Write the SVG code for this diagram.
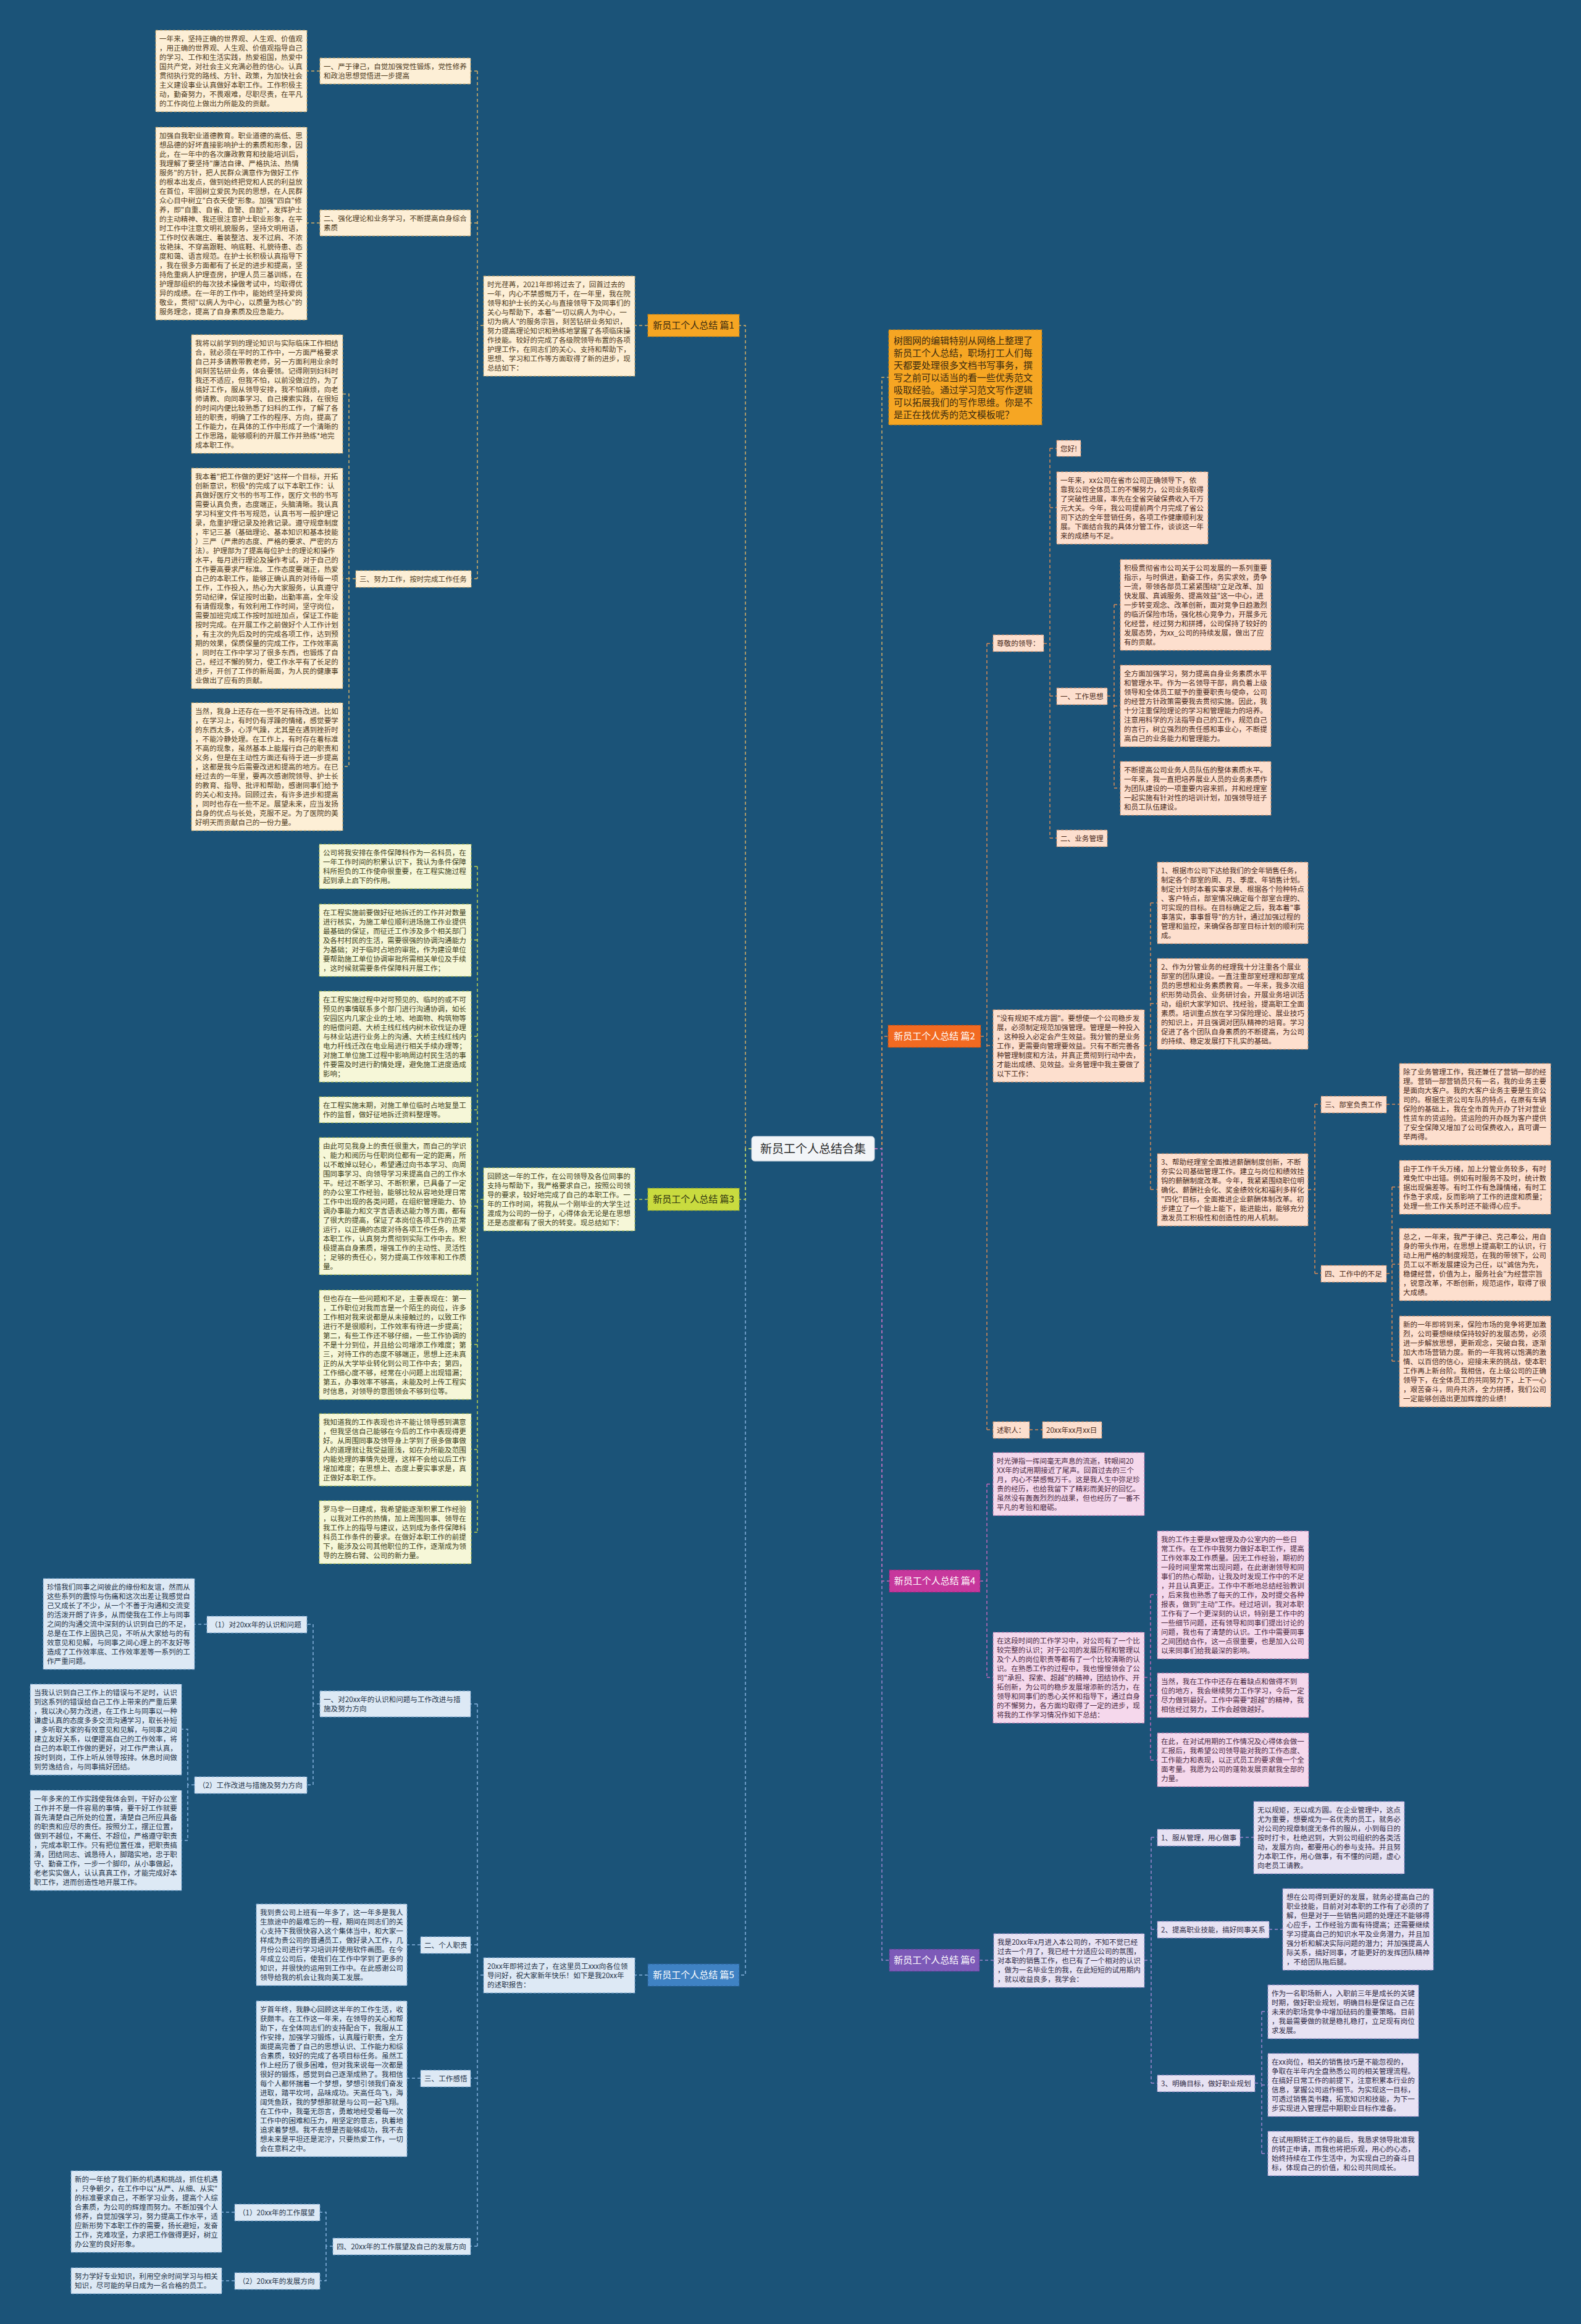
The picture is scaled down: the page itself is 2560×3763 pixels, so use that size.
<svg xmlns="http://www.w3.org/2000/svg" width="2560" height="3763" viewBox="0 0 2560 3763">
<style>
text{font-family:"Noto Sans CJK SC","Noto Sans",sans-serif}
.t{font-size:11.6px}
.lf rect{stroke-width:1;stroke-dasharray:4 3}
.b1 rect{fill:#fdefd6;stroke:#c8a25c}.b1 text{fill:#4d3a1c}
.b2 rect{fill:#fddfce;stroke:#cf8a60}.b2 text{fill:#4a2a1a}
.b3 rect{fill:#f6f7d8;stroke:#aabd45}.b3 text{fill:#3f4220}
.b4 rect{fill:#f5d8ec;stroke:#b36aa6}.b4 text{fill:#4a2a42}
.b5 rect{fill:#dde9f5;stroke:#7fa9d3}.b5 text{fill:#233247}
.b6 rect{fill:#e7e2f3;stroke:#9a86c8}.b6 text{fill:#2e2a44}
.mn rect{stroke-width:1.2;stroke-dasharray:4 3}
.mn text{font-size:15px;text-anchor:middle}
.cn path{fill:none;stroke-width:1.5;stroke-dasharray:5 4}
.c1{stroke:#d8b066}.c2{stroke:#d98a55}.c3{stroke:#bcd04c}.c4{stroke:#c06ab8}.c5{stroke:#86b3dd}.c6{stroke:#9f86d0}
</style>
<rect width="2560" height="3763" fill="#1b5378"/>

<g id="connectors" class="cn">
<path class="c1" d="M1217,1860 H1207 V527 H1197"/>
<path class="c5" d="M1217,1860 H1207 V3198 H1197"/>
<path class="c3" d="M1217,1860 H1207 V1942 H1197"/>
<path class="c1" d="M1416,1860 H1428 V611 H1439"/>
<path class="c2" d="M1416,1860 H1428 V1678 H1438"/>
<path class="c6" d="M1416,1860 H1428 V3174 H1440"/>
<path class="c4" d="M1416,1860 H1428 V2560 H1440"/>
<!-- 篇1 -->
<path class="c1" d="M1049,527 H1028"/>
<path class="c1" d="M783,527 H773 M773,115 V937 M773,115 H762 M773,361 H762 M773,937 H763"/>
<path class="c1" d="M518,115 H497 M518,361 H497"/>
<path class="c1" d="M576,937 H565 V638 H555 M565,937 H555 M565,937 V1241 H555"/>
<!-- 篇3 -->
<path class="c3" d="M1049,1942 H1028 M783,1942 H773 M773,1403 V2481 M773,1403 H763 M773,1522 H763 M773,1678 H763 M773,1797 H763 M773,1953 H763 M773,2177 H763 M773,2347 H763 M773,2481 H763"/>
<!-- 篇5 -->
<path class="c5" d="M1049,3198 H1028 M783,3198 H773 M773,2759 V3637 M773,2759 H762 M773,3149 H762 M773,3365 H762 M773,3637 H762"/>
<path class="c5" d="M518,2759 H507 V2630 H497 M507,2759 V2890 H497"/>
<path class="c5" d="M335,2630 H315"/>
<path class="c5" d="M315,2890 H304 V2800 H294 M304,2890 V2980 H294"/>
<path class="c5" d="M681,3149 H659 M681,3365 H659"/>
<path class="c5" d="M539,3637 H528 V3582 H518 M528,3637 V3693 H518"/>
<path class="c5" d="M380,3582 H359 M380,3693 H359"/>
<!-- 篇2 -->
<path class="c2" d="M1588,1678 H1598 M1598,1042 V2315 M1598,1042 H1608 M1598,1693 H1608 M1598,2315 H1608"/>
<path class="c2" d="M1690,1042 H1700 M1700,726 V1357 M1700,726 H1711 M1700,822 H1711 M1700,1127 H1711 M1700,1357 H1711"/>
<path class="c2" d="M1793,1127 H1804 M1804,979 V1276 M1804,979 H1814 M1804,1143 H1814 M1804,1276 H1814"/>
<path class="c2" d="M1852,1693 H1863 M1863,1462 V1926 M1863,1462 H1874 M1863,1625 H1874 M1863,1926 H1874"/>
<path class="c2" d="M2118,1926 H2129 M2129,1788 V2062 M2129,1788 H2139 M2129,2062 H2139"/>
<path class="c2" d="M2245,1788 H2266"/>
<path class="c2" d="M2245,2062 H2254 M2254,1922 V2204 M2254,1922 H2266 M2254,2047 H2266 M2254,2204 H2266"/>
<path class="c2" d="M1667,2315 H1688"/>
<!-- 篇4 -->
<path class="c4" d="M1587,2560 H1598 M1598,2403 V2716 M1598,2403 H1608 M1598,2716 H1608"/>
<path class="c4" d="M1853,2716 H1863 M1863,2582 V2850 M1863,2582 H1874 M1863,2745 H1874 M1863,2850 H1874"/>
<!-- 篇6 -->
<path class="c6" d="M1586,3174 H1609"/>
<path class="c6" d="M1853,3174 H1864 M1864,2975 V3373 M1864,2975 H1874 M1864,3124 H1874 M1864,3373 H1874"/>
<path class="c6" d="M2008,2975 H2030 M2055,3124 H2077"/>
<path class="c6" d="M2032,3373 H2043 M2043,3257 V3487 M2043,3257 H2053 M2043,3376 H2053 M2043,3487 H2053"/>
</g>

<g id="root">
<rect x="1217" y="1840" width="199" height="40" rx="5" fill="#f2f5f8" stroke="#c9d3dd" stroke-width="1"/>
<text x="1316.5" y="1866.5" font-size="19" text-anchor="middle" fill="#2b2b2b">新员工个人总结合集</text>
</g>

<!-- ===== 篇1 ===== -->
<g id="p1" class="mn"><rect x="1049" y="509" width="148" height="36" fill="#f6a623" stroke="#c27d10"/><text x="1123" y="532" fill="#3a2a10">新员工个人总结 篇1</text></g>
<g id="p1-intro" class="lf b1"><rect x="783" y="447" width="245" height="162"/><text class="t" x="789" y="465"><tspan x="789">时光荏苒，2021年即将过去了，回首过去的</tspan><tspan x="789" dy="15">一年，内心不禁感慨万千，在一年里，我在院</tspan><tspan x="789" dy="15">领导和护士长的关心与直接领导下及同事们的</tspan><tspan x="789" dy="15">关心与帮助下，本着"一切以病人为中心，一</tspan><tspan x="789" dy="15">切为病人"的服务宗旨，刻苦钻研业务知识，</tspan><tspan x="789" dy="15">努力提高理论知识和熟练地掌握了各项临床操</tspan><tspan x="789" dy="15">作技能。较好的完成了各级院领导布置的各项</tspan><tspan x="789" dy="15">护理工作，在同志们的关心、支持和帮助下，</tspan><tspan x="789" dy="15">思想、学习和工作等方面取得了新的进步，现</tspan><tspan x="789" dy="15">总结如下：</tspan></text></g>
<g id="p1-l1" class="lf b1"><rect x="518" y="94" width="244" height="42"/><text class="t" x="524" y="112"><tspan x="524">一、严于律己，自觉加强党性锻炼，党性修养</tspan><tspan x="524" dy="15">和政治思想觉悟进一步提高</tspan></text></g>
<g id="p1-b1" class="lf b1"><rect x="252" y="49" width="245" height="132"/><text class="t" x="258" y="67"><tspan x="258">一年来，坚持正确的世界观、人生观、价值观</tspan><tspan x="258" dy="15">，用正确的世界观、人生观、价值观指导自己</tspan><tspan x="258" dy="15">的学习、工作和生活实践，热爱祖国，热爱中</tspan><tspan x="258" dy="15">国共产党，对社会主义充满必胜的信心。认真</tspan><tspan x="258" dy="15">贯彻执行党的路线、方针、政策，为加快社会</tspan><tspan x="258" dy="15">主义建设事业认真做好本职工作。工作积极主</tspan><tspan x="258" dy="15">动，勤奋努力，不畏艰难，尽职尽责，在平凡</tspan><tspan x="258" dy="15">的工作岗位上做出力所能及的贡献。</tspan></text></g>
<g id="p1-l2" class="lf b1"><rect x="518" y="340" width="244" height="42"/><text class="t" x="524" y="358"><tspan x="524">二、强化理论和业务学习，不断提高自身综合</tspan><tspan x="524" dy="15">素质</tspan></text></g>
<g id="p1-b2" class="lf b1"><rect x="252" y="206" width="245" height="312"/><text class="t" x="258" y="224"><tspan x="258">加强自我职业道德教育。职业道德的高低、思</tspan><tspan x="258" dy="15">想品德的好坏直接影响护士的素质和形象，因</tspan><tspan x="258" dy="15">此，在一年中的各次廉政教育和技能培训后，</tspan><tspan x="258" dy="15">我理解了要坚持"廉洁自律、严格执法、热情</tspan><tspan x="258" dy="15">服务"的方针，把人民群众满意作为做好工作</tspan><tspan x="258" dy="15">的根本出发点，做到始终把党和人民的利益放</tspan><tspan x="258" dy="15">在首位，牢固树立爱民为民的思想，在人民群</tspan><tspan x="258" dy="15">众心目中树立"白衣天使"形象。加强"四自"修</tspan><tspan x="258" dy="15">养，即"自重、自省、自警、自励"，发挥护士</tspan><tspan x="258" dy="15">的主动精神、我还很注意护士职业形象，在平</tspan><tspan x="258" dy="15">时工作中注意文明礼貌服务，坚持文明用语，</tspan><tspan x="258" dy="15">工作时仪表端庄、着装整洁、发不过肩、不浓</tspan><tspan x="258" dy="15">妆艳抹、不穿高跟鞋、响底鞋、礼貌待患、态</tspan><tspan x="258" dy="15">度和蔼、语言规范。在护士长积极认真指导下</tspan><tspan x="258" dy="15">，我在很多方面都有了长足的进步和提高，坚</tspan><tspan x="258" dy="15">持危重病人护理查房，护理人员三基训练，在</tspan><tspan x="258" dy="15">护理部组织的每次技术操做考试中，均取得优</tspan><tspan x="258" dy="15">异的成绩。在一年的工作中，能始终坚持爱岗</tspan><tspan x="258" dy="15">敬业，贯彻"以病人为中心，以质量为核心"的</tspan><tspan x="258" dy="15">服务理念，提高了自身素质及应急能力。</tspan></text></g>
<g id="p1-l3" class="lf b1"><rect x="576" y="924" width="187" height="27"/><text class="t" x="582" y="942">三、努力工作，按时完成工作任务</text></g>
<g id="p1-b3" class="lf b1"><rect x="310" y="542" width="245" height="192"/><text class="t" x="316" y="560"><tspan x="316">我将以前学到的理论知识与实际临床工作相结</tspan><tspan x="316" dy="15">合，就必须在平时的工作中，一方面严格要求</tspan><tspan x="316" dy="15">自己并多请教带教老师，另一方面利用业余时</tspan><tspan x="316" dy="15">间刻苦钻研业务，体会要领。记得刚到妇科时</tspan><tspan x="316" dy="15">我还不适应，但我不怕，以前没做过的，为了</tspan><tspan x="316" dy="15">搞好工作，服从领导安排，我不怕麻烦，向老</tspan><tspan x="316" dy="15">师请教、向同事学习、自己摸索实践，在很短</tspan><tspan x="316" dy="15">的时间内便比较熟悉了妇科的工作，了解了各</tspan><tspan x="316" dy="15">班的职责，明确了工作的程序、方向，提高了</tspan><tspan x="316" dy="15">工作能力，在具体的工作中形成了一个清晰的</tspan><tspan x="316" dy="15">工作思路，能够顺利的开展工作并熟练*地完</tspan><tspan x="316" dy="15">成本职工作。</tspan></text></g>
<g id="p1-b4" class="lf b1"><rect x="310" y="758" width="245" height="357"/><text class="t" x="316" y="776"><tspan x="316">我本着"把工作做的更好"这样一个目标，开拓</tspan><tspan x="316" dy="15">创新意识，积极*的完成了以下本职工作：认</tspan><tspan x="316" dy="15">真做好医疗文书的书写工作，医疗文书的书写</tspan><tspan x="316" dy="15">需要认真负责，态度端正，头脑清晰。我认真</tspan><tspan x="316" dy="15">学习科室文件书写规范，认真书写一般护理记</tspan><tspan x="316" dy="15">录，危重护理记录及抢救记录。遵守规章制度</tspan><tspan x="316" dy="15">，牢记三基（基础理论、基本知识和基本技能</tspan><tspan x="316" dy="15">）三严（严肃的态度、严格的要求、严密的方</tspan><tspan x="316" dy="15">法）。护理部为了提高每位护士的理论和操作</tspan><tspan x="316" dy="15">水平，每月进行理论及操作考试，对于自己的</tspan><tspan x="316" dy="15">工作要高要求严标准。工作态度要端正，热爱</tspan><tspan x="316" dy="15">自己的本职工作，能够正确认真的对待每一项</tspan><tspan x="316" dy="15">工作，工作投入，热心为大家服务，认真遵守</tspan><tspan x="316" dy="15">劳动纪律，保证按时出勤，出勤率高，全年没</tspan><tspan x="316" dy="15">有请假现象，有效利用工作时间，坚守岗位，</tspan><tspan x="316" dy="15">需要加班完成工作按时加班加点，保证工作能</tspan><tspan x="316" dy="15">按时完成。在开展工作之前做好个人工作计划</tspan><tspan x="316" dy="15">，有主次的先后及时的完成各项工作，达到预</tspan><tspan x="316" dy="15">期的效果，保质保量的完成工作，工作效率高</tspan><tspan x="316" dy="15">，同时在工作中学习了很多东西，也锻炼了自</tspan><tspan x="316" dy="15">己，经过不懈的努力，使工作水平有了长足的</tspan><tspan x="316" dy="15">进步，开创了工作的新局面，为人民的健康事</tspan><tspan x="316" dy="15">业做出了应有的贡献。</tspan></text></g>
<g id="p1-b5" class="lf b1"><rect x="310" y="1138" width="245" height="207"/><text class="t" x="316" y="1156"><tspan x="316">当然，我身上还存在一些不足有待改进。比如</tspan><tspan x="316" dy="15">，在学习上，有时仍有浮躁的情绪，感觉要学</tspan><tspan x="316" dy="15">的东西太多，心浮气躁，尤其是在遇到挫折时</tspan><tspan x="316" dy="15">，不能冷静处理。在工作上，有时存在着标准</tspan><tspan x="316" dy="15">不高的现象，虽然基本上能履行自己的职责和</tspan><tspan x="316" dy="15">义务，但是在主动性方面还有待于进一步提高</tspan><tspan x="316" dy="15">，这都是我今后需要改进和提高的地方。在已</tspan><tspan x="316" dy="15">经过去的一年里，要再次感谢院领导、护士长</tspan><tspan x="316" dy="15">的教育、指导、批评和帮助，感谢同事们给予</tspan><tspan x="316" dy="15">的关心和支持。回顾过去，有许多进步和提高</tspan><tspan x="316" dy="15">，同时也存在一些不足。展望未来，应当发扬</tspan><tspan x="316" dy="15">自身的优点与长处，克服不足。为了医院的美</tspan><tspan x="316" dy="15">好明天而贡献自己的一份力量。</tspan></text></g>

<!-- ===== 篇3 ===== -->
<g id="p3" class="mn"><rect x="1049" y="1924" width="148" height="36" fill="#c9db3f" stroke="#98a82a"/><text x="1123" y="1947" fill="#2e3310">新员工个人总结 篇3</text></g>
<g id="p3-intro" class="lf b3"><rect x="783" y="1891" width="245" height="102"/><text class="t" x="789" y="1909"><tspan x="789">回顾这一年的工作，在公司领导及各位同事的</tspan><tspan x="789" dy="15">支持与帮助下，我严格要求自己，按照公司领</tspan><tspan x="789" dy="15">导的要求，较好地完成了自己的本职工作。一</tspan><tspan x="789" dy="15">年的工作时间，将我从一个刚毕业的大学生过</tspan><tspan x="789" dy="15">渡成为公司的一份子，心得体会无论是在思想</tspan><tspan x="789" dy="15">还是态度都有了很大的转变。现总结如下：</tspan></text></g>
<g id="p3-a" class="lf b3"><rect x="517" y="1367" width="246" height="72"/><text class="t" x="523" y="1385"><tspan x="523">公司将我安排在条件保障科作为一名科员，在</tspan><tspan x="523" dy="15">一年工作时间的积累认识下，我认为条件保障</tspan><tspan x="523" dy="15">科所担负的工作使命很重要，在工程实施过程</tspan><tspan x="523" dy="15">起到承上启下的作用。</tspan></text></g>
<g id="p3-b" class="lf b3"><rect x="517" y="1464" width="246" height="117"/><text class="t" x="523" y="1482"><tspan x="523">在工程实施前要做好征地拆迁的工作并对数量</tspan><tspan x="523" dy="15">进行核实，为施工单位顺利进场施工作业提供</tspan><tspan x="523" dy="15">最基础的保证，而征迁工作涉及多个相关部门</tspan><tspan x="523" dy="15">及各村村民的生活，需要很强的协调沟通能力</tspan><tspan x="523" dy="15">为基础；对于临时占地的审批，作为建设单位</tspan><tspan x="523" dy="15">要帮助施工单位协调审批所需相关单位及手续</tspan><tspan x="523" dy="15">，这时候就需要条件保障科开展工作；</tspan></text></g>
<g id="p3-c" class="lf b3"><rect x="517" y="1605" width="246" height="147"/><text class="t" x="523" y="1623"><tspan x="523">在工程实施过程中对可预见的、临时的或不可</tspan><tspan x="523" dy="15">预见的事情联系多个部门进行沟通协调，如长</tspan><tspan x="523" dy="15">安园区内几家企业的土地、地面物、构筑物等</tspan><tspan x="523" dy="15">的赔偿问题、大桥主线红线内树木砍伐证办理</tspan><tspan x="523" dy="15">与林业站进行业务上的沟通、大桥主线红线内</tspan><tspan x="523" dy="15">电力杆线迁改在电业局进行相关手续办理等；</tspan><tspan x="523" dy="15">对施工单位施工过程中影响周边村民生活的事</tspan><tspan x="523" dy="15">件要需及时进行酌情处理，避免施工进度造成</tspan><tspan x="523" dy="15">影响；</tspan></text></g>
<g id="p3-d" class="lf b3"><rect x="517" y="1776" width="246" height="42"/><text class="t" x="523" y="1794"><tspan x="523">在工程实施末期，对施工单位临时占地复垦工</tspan><tspan x="523" dy="15">作的监督，做好征地拆迁资料整理等。</tspan></text></g>
<g id="p3-e" class="lf b3"><rect x="517" y="1842" width="246" height="222"/><text class="t" x="523" y="1860"><tspan x="523">由此可见我身上的责任很重大，而自己的学识</tspan><tspan x="523" dy="15">、能力和阅历与任职岗位都有一定的距离，所</tspan><tspan x="523" dy="15">以不敢掉以轻心，希望通过向书本学习、向周</tspan><tspan x="523" dy="15">围同事学习、向领导学习来提高自己的工作水</tspan><tspan x="523" dy="15">平。经过不断学习、不断积累，已具备了一定</tspan><tspan x="523" dy="15">的办公室工作经验，能够比较从容地处理日常</tspan><tspan x="523" dy="15">工作中出现的各类问题，在组织管理能力、协</tspan><tspan x="523" dy="15">调办事能力和文字言语表达能力等方面，都有</tspan><tspan x="523" dy="15">了很大的提高，保证了本岗位各项工作的正常</tspan><tspan x="523" dy="15">运行，以正确的态度对待各项工作任务，热爱</tspan><tspan x="523" dy="15">本职工作，认真努力贯彻到实际工作中去。积</tspan><tspan x="523" dy="15">极提高自身素质，增强工作的主动性、灵活性</tspan><tspan x="523" dy="15">；足够的责任心，努力提高工作效率和工作质</tspan><tspan x="523" dy="15">量。</tspan></text></g>
<g id="p3-f" class="lf b3"><rect x="517" y="2089" width="246" height="177"/><text class="t" x="523" y="2107"><tspan x="523">但也存在一些问题和不足，主要表现在：第一</tspan><tspan x="523" dy="15">，工作职位对我而言是一个陌生的岗位，许多</tspan><tspan x="523" dy="15">工作相对我来说都是从未接触过的，以致工作</tspan><tspan x="523" dy="15">进行不是很顺利，工作效率有待进一步提高；</tspan><tspan x="523" dy="15">第二，有些工作还不够仔细，一些工作协调的</tspan><tspan x="523" dy="15">不是十分到位，并且给公司增添工作难度；第</tspan><tspan x="523" dy="15">三，对待工作的态度不够端正，思想上还未真</tspan><tspan x="523" dy="15">正的从大学毕业转化到公司工作中去；第四，</tspan><tspan x="523" dy="15">工作细心度不够，经常在小问题上出现错漏；</tspan><tspan x="523" dy="15">第五，办事效率不够高，未能及时上传工程实</tspan><tspan x="523" dy="15">时信息，对领导的意图领会不够到位等。</tspan></text></g>
<g id="p3-g" class="lf b3"><rect x="517" y="2289" width="246" height="117"/><text class="t" x="523" y="2307"><tspan x="523">我知道我的工作表现也许不能让领导感到满意</tspan><tspan x="523" dy="15">，但我坚信自己能够在今后的工作中表现得更</tspan><tspan x="523" dy="15">好。从周围同事及领导身上学到了很多做事做</tspan><tspan x="523" dy="15">人的道理就让我受益匪浅，如在力所能及范围</tspan><tspan x="523" dy="15">内能处理的事情先处理，这样不会给以后工作</tspan><tspan x="523" dy="15">增加难度；在思想上、态度上要实事求是，真</tspan><tspan x="523" dy="15">正做好本职工作。</tspan></text></g>
<g id="p3-h" class="lf b3"><rect x="517" y="2430" width="246" height="102"/><text class="t" x="523" y="2448"><tspan x="523">罗马非一日建成，我希望能逐渐积累工作经验</tspan><tspan x="523" dy="15">，以我对工作的热情，加上周围同事、领导在</tspan><tspan x="523" dy="15">我工作上的指导与建议，达到成为条件保障科</tspan><tspan x="523" dy="15">科员工作条件的要求。在做好本职工作的前提</tspan><tspan x="523" dy="15">下，能涉及公司其他职位的工作，逐渐成为领</tspan><tspan x="523" dy="15">导的左膀右臂、公司的新力量。</tspan></text></g>

<!-- ===== 篇5 ===== -->
<g id="p5" class="mn"><rect x="1049" y="3180" width="148" height="36" fill="#3f82c4" stroke="#2a5f95"/><text x="1123" y="3203" fill="#ffffff">新员工个人总结 篇5</text></g>
<g id="p5-intro" class="lf b5"><rect x="783" y="3170" width="245" height="57"/><text class="t" x="789" y="3188"><tspan x="789">20xx年即将过去了，在这里员工xxx向各位领</tspan><tspan x="789" dy="15">导问好，祝大家新年快乐！如下是我20xx年</tspan><tspan x="789" dy="15">的述职报告：</tspan></text></g>
<g id="p5-l1" class="lf b5"><rect x="518" y="2738" width="244" height="42"/><text class="t" x="524" y="2756"><tspan x="524">一、对20xx年的认识和问题与工作改进与措</tspan><tspan x="524" dy="15">施及努力方向</tspan></text></g>
<g id="p5-s1" class="lf b5"><rect x="335" y="2617" width="162" height="27"/><text class="t" x="341" y="2635">（1）对20xx年的认识和问题</text></g>
<g id="p5-p1" class="lf b5"><rect x="70" y="2556" width="245" height="147"/><text class="t" x="76" y="2574"><tspan x="76">珍惜我们同事之间彼此的缘份和友谊，然而从</tspan><tspan x="76" dy="15">这些系列的震惊与伤痛和这次出差让我感觉自</tspan><tspan x="76" dy="15">己又成长了不少，从一个不善于沟通和交流变</tspan><tspan x="76" dy="15">的活泼开朗了许多，从而使我在工作上与同事</tspan><tspan x="76" dy="15">之间的沟通交流中深刻的认识到自已的不足，</tspan><tspan x="76" dy="15">总是在工作上固执己见，不听从大家给与的有</tspan><tspan x="76" dy="15">效意见和见解，与同事之间心理上的不友好等</tspan><tspan x="76" dy="15">造成了工作效率底、工作效率差等一系列的工</tspan><tspan x="76" dy="15">作严重问题。</tspan></text></g>
<g id="p5-s2" class="lf b5"><rect x="315" y="2877" width="182" height="27"/><text class="t" x="321" y="2895">（2）工作改进与措施及努力方向</text></g>
<g id="p5-p2" class="lf b5"><rect x="49" y="2727" width="245" height="147"/><text class="t" x="55" y="2745"><tspan x="55">当我认识到自己工作上的错误与不足时，认识</tspan><tspan x="55" dy="15">到这系列的错误给自己工作上带来的严重后果</tspan><tspan x="55" dy="15">，我以决心努力改进，在工作上与同事以一种</tspan><tspan x="55" dy="15">谦虚认真的态度多多交流沟通学习，取长补短</tspan><tspan x="55" dy="15">，多听取大家的有效意见和见解，与同事之间</tspan><tspan x="55" dy="15">建立友好关系，以便提高自己的工作效率，将</tspan><tspan x="55" dy="15">自己的本职工作做的更好，对工作严肃认真，</tspan><tspan x="55" dy="15">按时到岗，工作上听从领导按排。休息时间做</tspan><tspan x="55" dy="15">到劳逸结合，与同事搞好团结。</tspan></text></g>
<g id="p5-p3" class="lf b5"><rect x="49" y="2899" width="245" height="162"/><text class="t" x="55" y="2917"><tspan x="55">一年多来的工作实践使我体会到，干好办公室</tspan><tspan x="55" dy="15">工作并不是一件容易的事情，要干好工作就要</tspan><tspan x="55" dy="15">首先清楚自己所处的位置，清楚自己所应具备</tspan><tspan x="55" dy="15">的职责和应尽的责任。按照分工，摆正位置，</tspan><tspan x="55" dy="15">做到不越位，不离任、不超位，严格遵守职责</tspan><tspan x="55" dy="15">，完成本职工作。只有把位置任准，把职责搞</tspan><tspan x="55" dy="15">清，团结同志、诚恳待人，脚踏实地，忠于职</tspan><tspan x="55" dy="15">守、勤奋工作，一步一个脚印，从小事做起，</tspan><tspan x="55" dy="15">老老实实做人，认认真真工作，才能完成好本</tspan><tspan x="55" dy="15">职工作，进而创造性地开展工作。</tspan></text></g>
<g id="p5-l2" class="lf b5"><rect x="681" y="3136" width="81" height="27"/><text class="t" x="687" y="3154">二、个人职责</text></g>
<g id="p5-b2" class="lf b5"><rect x="415" y="3083" width="244" height="132"/><text class="t" x="421" y="3101"><tspan x="421">我到贵公司上班有一年多了，这一年多是我人</tspan><tspan x="421" dy="15">生旅途中的最难忘的一程，期间在同志们的关</tspan><tspan x="421" dy="15">心支持下我很快容入这个集体当中，和大家一</tspan><tspan x="421" dy="15">样成为贵公司的普通员工，做好录入工作，几</tspan><tspan x="421" dy="15">月份公司进行学习培训并使用软件画图。在今</tspan><tspan x="421" dy="15">年成立公司后，使我们在工作中学到了更多的</tspan><tspan x="421" dy="15">知识，并很快的运用到工作中。在此感谢公司</tspan><tspan x="421" dy="15">领导给我的机会让我向美工发展。</tspan></text></g>
<g id="p5-l3" class="lf b5"><rect x="681" y="3352" width="81" height="27"/><text class="t" x="687" y="3370">三、工作感悟</text></g>
<g id="p5-b3" class="lf b5"><rect x="415" y="3240" width="244" height="252"/><text class="t" x="421" y="3258"><tspan x="421">岁首年终，我静心回顾这半年的工作生活，收</tspan><tspan x="421" dy="15">获颇丰。在工作这一年来，在领导的关心和帮</tspan><tspan x="421" dy="15">助下，在全体同志们的支持配合下，我服从工</tspan><tspan x="421" dy="15">作安排，加强学习锻炼，认真履行职责，全方</tspan><tspan x="421" dy="15">面提高完善了自己的思想认识、工作能力和综</tspan><tspan x="421" dy="15">合素质，较好的完成了各项目标任务。虽然工</tspan><tspan x="421" dy="15">作上经历了很多困难，但对我来说每一次都是</tspan><tspan x="421" dy="15">很好的锻炼，感觉到自己逐渐成熟了。我相信</tspan><tspan x="421" dy="15">每个人都怀揣着一个梦想，梦想引领我们奋发</tspan><tspan x="421" dy="15">进取，踏平坎坷，品味成功。天高任鸟飞，海</tspan><tspan x="421" dy="15">阔凭鱼跃，我的梦想那就是与公司一起飞翔。</tspan><tspan x="421" dy="15">在工作中，我毫无怨言，勇敢地经受着每一次</tspan><tspan x="421" dy="15">工作中的困难和压力，用坚定的意志，执着地</tspan><tspan x="421" dy="15">追求着梦想。我不去想是否能够成功，我不去</tspan><tspan x="421" dy="15">想未来是平坦还是泥泞，只要热爱工作，一切</tspan><tspan x="421" dy="15">会在意料之中。</tspan></text></g>
<g id="p5-l4" class="lf b5"><rect x="539" y="3624" width="223" height="27"/><text class="t" x="545" y="3642">四、20xx年的工作展望及自己的发展方向</text></g>
<g id="p5-s3" class="lf b5"><rect x="380" y="3569" width="138" height="27"/><text class="t" x="386" y="3587">（1）20xx年的工作展望</text></g>
<g id="p5-b4" class="lf b5"><rect x="115" y="3515" width="244" height="132"/><text class="t" x="121" y="3533"><tspan x="121">新的一年给了我们新的机遇和挑战，抓住机遇</tspan><tspan x="121" dy="15">，只争朝夕，在工作中以"从严、从细、从实"</tspan><tspan x="121" dy="15">的标准要求自己，不断学习业务，提高个人综</tspan><tspan x="121" dy="15">合素质，为公司的辉煌而努力。不断加强个人</tspan><tspan x="121" dy="15">修养，自觉加强学习，努力提高工作水平，适</tspan><tspan x="121" dy="15">应新形势下本职工作的需要，扬长避短，发奋</tspan><tspan x="121" dy="15">工作，克难攻坚，力求把工作做得更好，树立</tspan><tspan x="121" dy="15">办公室的良好形象。</tspan></text></g>
<g id="p5-s4" class="lf b5"><rect x="380" y="3680" width="138" height="27"/><text class="t" x="386" y="3698">（2）20xx年的发展方向</text></g>
<g id="p5-b5" class="lf b5"><rect x="115" y="3672" width="244" height="42"/><text class="t" x="121" y="3690"><tspan x="121">努力学好专业知识，利用空余时间学习与相关</tspan><tspan x="121" dy="15">知识，尽可能的早日成为一名合格的员工。</tspan></text></g>

<!-- ===== intro ===== -->
<g id="intro"><rect x="1439" y="534" width="248" height="154" fill="#f6a623" stroke="#c27d10" stroke-width="1.2" stroke-dasharray="4 3"/><text x="1447" y="557" font-size="15" fill="#3a2a10"><tspan x="1447">树图网的编辑特别从网络上整理了</tspan><tspan x="1447" dy="20">新员工个人总结，职场打工人们每</tspan><tspan x="1447" dy="20">天都要处理很多文档书写事务，撰</tspan><tspan x="1447" dy="20">写之前可以适当的看一些优秀范文</tspan><tspan x="1447" dy="20">吸取经验。通过学习范文写作逻辑</tspan><tspan x="1447" dy="20">可以拓展我们的写作思维。你是不</tspan><tspan x="1447" dy="20">是正在找优秀的范文模板呢？</tspan></text></g>

<!-- ===== 篇2 ===== -->
<g id="p2" class="mn"><rect x="1438" y="1660" width="150" height="36" fill="#f26a21" stroke="#c04a10"/><text x="1513" y="1683" fill="#ffffff">新员工个人总结 篇2</text></g>
<g id="p2-lead" class="lf b2"><rect x="1608" y="1028" width="82" height="27"/><text class="t" x="1614" y="1046">尊敬的领导：</text></g>
<g id="p2-hi" class="lf b2"><rect x="1711" y="713" width="39" height="26"/><text class="t" x="1717" y="731">您好!</text></g>
<g id="p2-a" class="lf b2"><rect x="1711" y="764" width="245" height="117"/><text class="t" x="1717" y="782"><tspan x="1717">一年来，xx公司在省市公司正确领导下，依</tspan><tspan x="1717" dy="15">靠我公司全体员工的不懈努力，公司业务取得</tspan><tspan x="1717" dy="15">了突破性进展，率先在全省突破保费收入千万</tspan><tspan x="1717" dy="15">元大关。今年，我公司提前两个月完成了省公</tspan><tspan x="1717" dy="15">司下达的全年营销任务，各项工作健康顺利发</tspan><tspan x="1717" dy="15">展。下面结合我的具体分管工作，谈谈这一年</tspan><tspan x="1717" dy="15">来的成绩与不足。</tspan></text></g>
<g id="p2-l1" class="lf b2"><rect x="1711" y="1114" width="82" height="27"/><text class="t" x="1717" y="1132">一、工作思想</text></g>
<g id="p2-l2" class="lf b2"><rect x="1711" y="1344" width="82" height="27"/><text class="t" x="1717" y="1362">二、业务管理</text></g>
<g id="p2-w1" class="lf b2"><rect x="1814" y="906" width="244" height="147"/><text class="t" x="1820" y="924"><tspan x="1820">积极贯彻省市公司关于公司发展的一系列重要</tspan><tspan x="1820" dy="15">指示，与时俱进，勤奋工作，务实求效，勇争</tspan><tspan x="1820" dy="15">一流，带领各部员工紧紧围绕"立足改革、加</tspan><tspan x="1820" dy="15">快发展、真诚服务、提高效益"这一中心，进</tspan><tspan x="1820" dy="15">一步转变观念、改革创新，面对竞争日趋激烈</tspan><tspan x="1820" dy="15">的临沂保险市场，强化核心竞争力，开展多元</tspan><tspan x="1820" dy="15">化经营，经过努力和拼搏，公司保持了较好的</tspan><tspan x="1820" dy="15">发展态势，为xx_公司的持续发展，做出了应</tspan><tspan x="1820" dy="15">有的贡献。</tspan></text></g>
<g id="p2-w2" class="lf b2"><rect x="1814" y="1077" width="244" height="132"/><text class="t" x="1820" y="1095"><tspan x="1820">全方面加强学习，努力提高自身业务素质水平</tspan><tspan x="1820" dy="15">和管理水平。作为一名领导干部，肩负着上级</tspan><tspan x="1820" dy="15">领导和全体员工赋予的重要职责与使命，公司</tspan><tspan x="1820" dy="15">的经营方针政策需要我去贯彻实施。因此，我</tspan><tspan x="1820" dy="15">十分注重保险理论的学习和管理能力的培养。</tspan><tspan x="1820" dy="15">注意用科学的方法指导自己的工作，规范自己</tspan><tspan x="1820" dy="15">的言行，树立强烈的责任感和事业心，不断提</tspan><tspan x="1820" dy="15">高自己的业务能力和管理能力。</tspan></text></g>
<g id="p2-w3" class="lf b2"><rect x="1814" y="1233" width="244" height="87"/><text class="t" x="1820" y="1251"><tspan x="1820">不断提高公司业务人员队伍的整体素质水平。</tspan><tspan x="1820" dy="15">一年来，我一直把培养展业人员的业务素质作</tspan><tspan x="1820" dy="15">为团队建设的一项重要内容来抓，并和经理室</tspan><tspan x="1820" dy="15">一起实施有针对性的培训计划，加强领导班子</tspan><tspan x="1820" dy="15">和员工队伍建设。</tspan></text></g>
<g id="p2-m" class="lf b2"><rect x="1608" y="1635" width="245" height="117"/><text class="t" x="1614" y="1653"><tspan x="1614">"没有规矩不成方圆"。要想使一个公司稳步发</tspan><tspan x="1614" dy="15">展，必须制定规范加强管理。管理是一种投入</tspan><tspan x="1614" dy="15">，这种投入必定会产生效益。我分管的是业务</tspan><tspan x="1614" dy="15">工作，更需要向管理要效益。只有不断完善各</tspan><tspan x="1614" dy="15">种管理制度和方法，并真正贯彻到行动中去，</tspan><tspan x="1614" dy="15">才能出成绩、见效益。业务管理中我主要做了</tspan><tspan x="1614" dy="15">以下工作：</tspan></text></g>
<g id="p2-m1" class="lf b2"><rect x="1874" y="1396" width="244" height="132"/><text class="t" x="1880" y="1414"><tspan x="1880">1、根据市公司下达给我们的全年销售任务，</tspan><tspan x="1880" dy="15">制定各个部室的周、月、季度、年销售计划。</tspan><tspan x="1880" dy="15">制定计划时本着实事求是、根据各个险种特点</tspan><tspan x="1880" dy="15">、客户特点，部室情况确定每个部室合理的、</tspan><tspan x="1880" dy="15">可实现的目标。在目标确定之后，我本着"事</tspan><tspan x="1880" dy="15">事落实，事事督导"的方针，通过加强过程的</tspan><tspan x="1880" dy="15">管理和监控，来确保各部室目标计划的顺利完</tspan><tspan x="1880" dy="15">成。</tspan></text></g>
<g id="p2-m2" class="lf b2"><rect x="1874" y="1552" width="244" height="147"/><text class="t" x="1880" y="1570"><tspan x="1880">2、作为分管业务的经理我十分注重各个展业</tspan><tspan x="1880" dy="15">部室的团队建设。一直注重部室经理和部室成</tspan><tspan x="1880" dy="15">员的思想和业务素质教育。一年来，我多次组</tspan><tspan x="1880" dy="15">织形势动员会、业务研讨会，开展业务培训活</tspan><tspan x="1880" dy="15">动，组织大家学知识、找经验，提高职工全面</tspan><tspan x="1880" dy="15">素质。培训重点放在学习保险理论、展业技巧</tspan><tspan x="1880" dy="15">的知识上，并且强调对团队精神的培育。学习</tspan><tspan x="1880" dy="15">促进了各个团队自身素质的不断提高，为公司</tspan><tspan x="1880" dy="15">的持续、稳定发展打下扎实的基础。</tspan></text></g>
<g id="p2-m3" class="lf b2"><rect x="1874" y="1868" width="244" height="117"/><text class="t" x="1880" y="1886"><tspan x="1880">3、帮助经理室全面推进薪酬制度创新，不断</tspan><tspan x="1880" dy="15">夯实公司基础管理工作。建立与岗位和绩效挂</tspan><tspan x="1880" dy="15">钩的薪酬制度改革。今年，我紧紧围绕职位明</tspan><tspan x="1880" dy="15">确化、薪酬社会化、奖金绩效化和福利多样化</tspan><tspan x="1880" dy="15">"四化"目标，全面推进企业薪酬体制改革。初</tspan><tspan x="1880" dy="15">步建立了一个能上能下，能进能出，能够充分</tspan><tspan x="1880" dy="15">激发员工积极性和创造性的用人机制。</tspan></text></g>
<g id="p2-l3" class="lf b2"><rect x="2139" y="1775" width="106" height="27"/><text class="t" x="2145" y="1793">三、部室负责工作</text></g>
<g id="p2-d1" class="lf b2"><rect x="2266" y="1722" width="245" height="132"/><text class="t" x="2272" y="1740"><tspan x="2272">除了业务管理工作，我还兼任了营销一部的经</tspan><tspan x="2272" dy="15">理。营销一部营销员只有一名，我的业务主要</tspan><tspan x="2272" dy="15">是面向大客户。我的大客户业务主要是生资公</tspan><tspan x="2272" dy="15">司的。根据生资公司车队的特点，在原有车辆</tspan><tspan x="2272" dy="15">保险的基础上，我在全市首先开办了针对营业</tspan><tspan x="2272" dy="15">性货车的货运险。货运险的开办既为客户提供</tspan><tspan x="2272" dy="15">了安全保障又增加了公司保费收入，真可谓一</tspan><tspan x="2272" dy="15">举两得。</tspan></text></g>
<g id="p2-l4" class="lf b2"><rect x="2139" y="2049" width="106" height="27"/><text class="t" x="2145" y="2067">四、工作中的不足</text></g>
<g id="p2-e1" class="lf b2"><rect x="2266" y="1879" width="245" height="87"/><text class="t" x="2272" y="1897"><tspan x="2272">由于工作千头万绪，加上分管业务较多，有时</tspan><tspan x="2272" dy="15">难免忙中出错。例如有时服务不及时，统计数</tspan><tspan x="2272" dy="15">据出现偏差等。有时工作有急躁情绪，有时工</tspan><tspan x="2272" dy="15">作急于求成，反而影响了工作的进度和质量；</tspan><tspan x="2272" dy="15">处理一些工作关系时还不能得心应手。</tspan></text></g>
<g id="p2-e2" class="lf b2"><rect x="2266" y="1989" width="245" height="117"/><text class="t" x="2272" y="2007"><tspan x="2272">总之，一年来，我严于律己、克己奉公，用自</tspan><tspan x="2272" dy="15">身的带头作用，在思想上提高职工的认识，行</tspan><tspan x="2272" dy="15">动上用严格的制度规范，在我的带领下，公司</tspan><tspan x="2272" dy="15">员工以不断发展建设为己任，以"诚信为先，</tspan><tspan x="2272" dy="15">稳健经营，价值为上，服务社会"为经营宗旨</tspan><tspan x="2272" dy="15">，锐意改革，不断创新，规范运作，取得了很</tspan><tspan x="2272" dy="15">大成绩。</tspan></text></g>
<g id="p2-e3" class="lf b2"><rect x="2266" y="2131" width="245" height="147"/><text class="t" x="2272" y="2149"><tspan x="2272">新的一年即将到来，保险市场的竞争将更加激</tspan><tspan x="2272" dy="15">烈，公司要想继续保持较好的发展态势，必须</tspan><tspan x="2272" dy="15">进一步解放思想，更新观念，突破自我，逐渐</tspan><tspan x="2272" dy="15">加大市场营销力度。新的一年我将以饱满的激</tspan><tspan x="2272" dy="15">情、以百倍的信心，迎接未来的挑战，使本职</tspan><tspan x="2272" dy="15">工作再上新台阶。我相信，在上级公司的正确</tspan><tspan x="2272" dy="15">领导下，在全体员工的共同努力下，上下一心</tspan><tspan x="2272" dy="15">，艰苦奋斗，同舟共济，全力拼搏，我们公司</tspan><tspan x="2272" dy="15">一定能够创造出更加辉煌的业绩！</tspan></text></g>
<g id="p2-sig" class="lf b2"><rect x="1608" y="2302" width="59" height="27"/><text class="t" x="1614" y="2320">述职人：</text></g>
<g id="p2-date" class="lf b2"><rect x="1688" y="2302" width="96" height="27"/><text class="t" x="1694" y="2320">20xx年xx月xx日</text></g>

<!-- ===== 篇4 ===== -->
<g id="p4" class="mn"><rect x="1440" y="2542" width="147" height="36" fill="#c7379c" stroke="#942576"/><text x="1513.5" y="2565" fill="#ffffff">新员工个人总结 篇4</text></g>
<g id="p4-a" class="lf b4"><rect x="1608" y="2352" width="245" height="102"/><text class="t" x="1614" y="2370"><tspan x="1614">时光弹指一挥间毫无声息的流逝，转眼间20</tspan><tspan x="1614" dy="15">XX年的试用期接近了尾声。回首过去的三个</tspan><tspan x="1614" dy="15">月，内心不禁感慨万千。这是我人生中弥足珍</tspan><tspan x="1614" dy="15">贵的经历，也给我留下了精彩而美好的回忆。</tspan><tspan x="1614" dy="15">虽然没有轰轰烈烈的战果，但也经历了一番不</tspan><tspan x="1614" dy="15">平凡的考验和磨砺。</tspan></text></g>
<g id="p4-b" class="lf b4"><rect x="1608" y="2643" width="245" height="147"/><text class="t" x="1614" y="2661"><tspan x="1614">在这段时间的工作学习中，对公司有了一个比</tspan><tspan x="1614" dy="15">较完整的认识；对于公司的发展历程和管理以</tspan><tspan x="1614" dy="15">及个人的岗位职责等都有了一个比较清晰的认</tspan><tspan x="1614" dy="15">识。在熟悉工作的过程中，我也慢慢领会了公</tspan><tspan x="1614" dy="15">司"承担、探索、超越"的精神，团结协作、开</tspan><tspan x="1614" dy="15">拓创新，为公司的稳步发展增添新的活力，在</tspan><tspan x="1614" dy="15">领导和同事们的悉心关怀和指导下，通过自身</tspan><tspan x="1614" dy="15">的不懈努力，各方面均取得了一定的进步，现</tspan><tspan x="1614" dy="15">将我的工作学习情况作如下总结：</tspan></text></g>
<g id="p4-c1" class="lf b4"><rect x="1874" y="2479" width="245" height="207"/><text class="t" x="1880" y="2497"><tspan x="1880">我的工作主要是xx管理及办公室内的一些日</tspan><tspan x="1880" dy="15">常工作。在工作中我努力做好本职工作，提高</tspan><tspan x="1880" dy="15">工作效率及工作质量。因无工作经验，期初的</tspan><tspan x="1880" dy="15">一段时间里常常出现问题，在此谢谢领导和同</tspan><tspan x="1880" dy="15">事们的热心帮助，让我及时发现工作中的不足</tspan><tspan x="1880" dy="15">，并且认真更正。工作中不断地总结经验教训</tspan><tspan x="1880" dy="15">，后来我也熟悉了每天的工作，及时提交各种</tspan><tspan x="1880" dy="15">报表，做到"主动"工作。经过培训，我对本职</tspan><tspan x="1880" dy="15">工作有了一个更深刻的认识，特别是工作中的</tspan><tspan x="1880" dy="15">一些细节问题，还有领导和同事们提出讨论的</tspan><tspan x="1880" dy="15">问题，我也有了清楚的认识。工作中需要同事</tspan><tspan x="1880" dy="15">之间团结合作，这一点很重要，也是加入公司</tspan><tspan x="1880" dy="15">以来同事们给我最深的影响。</tspan></text></g>
<g id="p4-c2" class="lf b4"><rect x="1874" y="2709" width="245" height="72"/><text class="t" x="1880" y="2727"><tspan x="1880">当然，我在工作中还存在着缺点和做得不到</tspan><tspan x="1880" dy="15">位的地方，我会继续努力工作学习，今后一定</tspan><tspan x="1880" dy="15">尽力做到最好。工作中需要"超越"的精神，我</tspan><tspan x="1880" dy="15">相信经过努力，工作会越做越好。</tspan></text></g>
<g id="p4-c3" class="lf b4"><rect x="1874" y="2806" width="245" height="87"/><text class="t" x="1880" y="2824"><tspan x="1880">在此，在对试用期的工作情况及心得体会做一</tspan><tspan x="1880" dy="15">汇报后，我希望公司领导能对我的工作态度、</tspan><tspan x="1880" dy="15">工作能力和表现，以正式员工的要求做一个全</tspan><tspan x="1880" dy="15">面考量。我愿为公司的蓬勃发展贡献我全部的</tspan><tspan x="1880" dy="15">力量。</tspan></text></g>

<!-- ===== 篇6 ===== -->
<g id="p6" class="mn"><rect x="1440" y="3156" width="146" height="36" fill="#7d5ab8" stroke="#5b3f8c"/><text x="1513" y="3179" fill="#ffffff">新员工个人总结 篇6</text></g>
<g id="p6-a" class="lf b6"><rect x="1609" y="3131" width="244" height="87"/><text class="t" x="1615" y="3149"><tspan x="1615">我是20xx年x月进入本公司的，不知不觉已经</tspan><tspan x="1615" dy="15">过去一个月了，我已经十分适应公司的氛围，</tspan><tspan x="1615" dy="15">对本职的销售工作，也已有了一个相对的认识</tspan><tspan x="1615" dy="15">，做为一名毕业生的我，在此短短的试用期内</tspan><tspan x="1615" dy="15">，就以收益良多，我学会：</tspan></text></g>
<g id="p6-l1" class="lf b6"><rect x="1874" y="2962" width="134" height="27"/><text class="t" x="1880" y="2980">1、服从管理，用心做事</text></g>
<g id="p6-b1" class="lf b6"><rect x="2030" y="2917" width="244" height="117"/><text class="t" x="2036" y="2935"><tspan x="2036">无以规矩，无以成方圆。在企业管理中，这点</tspan><tspan x="2036" dy="15">尤为重要，想要成为一名优秀的员工，就务必</tspan><tspan x="2036" dy="15">对公司的规章制度无条件的服从，小到每日的</tspan><tspan x="2036" dy="15">按时打卡，杜绝迟到，大到公司组织的各类活</tspan><tspan x="2036" dy="15">动，发展方向，都要用心的参与支持。并且努</tspan><tspan x="2036" dy="15">力本职工作，用心做事，有不懂的问题，虚心</tspan><tspan x="2036" dy="15">向老员工请教。</tspan></text></g>
<g id="p6-l2" class="lf b6"><rect x="1874" y="3111" width="181" height="27"/><text class="t" x="1880" y="3129">2、提高职业技能，搞好同事关系</text></g>
<g id="p6-b2" class="lf b6"><rect x="2077" y="3058" width="244" height="132"/><text class="t" x="2083" y="3076"><tspan x="2083">想在公司得到更好的发展，就务必提高自己的</tspan><tspan x="2083" dy="15">职业技能，目前对对本职的工作有了必须的了</tspan><tspan x="2083" dy="15">解，但是对于一些销售问题的处理还不能够得</tspan><tspan x="2083" dy="15">心应手，工作经验方面有待提高；还需要继续</tspan><tspan x="2083" dy="15">学习提高自己的知识水平及业务潜力，并且加</tspan><tspan x="2083" dy="15">强分析和解决实际问题的潜力；并加强提高人</tspan><tspan x="2083" dy="15">际关系，搞好同事，才能更好的发挥团队精神</tspan><tspan x="2083" dy="15">，不给团队拖后腿。</tspan></text></g>
<g id="p6-l3" class="lf b6"><rect x="1874" y="3360" width="158" height="27"/><text class="t" x="1880" y="3378">3、明确目标，做好职业规划</text></g>
<g id="p6-b3" class="lf b6"><rect x="2053" y="3214" width="244" height="87"/><text class="t" x="2059" y="3232"><tspan x="2059">作为一名职场新人，入职前三年是成长的关键</tspan><tspan x="2059" dy="15">时期，做好职业规划，明确目标是保证自己在</tspan><tspan x="2059" dy="15">未来的职场竞争中增加砝码的重要策略。目前</tspan><tspan x="2059" dy="15">，我最需要做的就是稳扎稳打，立足现有岗位</tspan><tspan x="2059" dy="15">求发展。</tspan></text></g>
<g id="p6-b4" class="lf b6"><rect x="2053" y="3325" width="244" height="102"/><text class="t" x="2059" y="3343"><tspan x="2059">在xx岗位，相关的销售技巧是不能忽视的，</tspan><tspan x="2059" dy="15">争取在半年内全盘熟悉公司的相关管理流程。</tspan><tspan x="2059" dy="15">在搞好日常工作的前提下，注意积累本行业的</tspan><tspan x="2059" dy="15">信息，掌握公司运作细节。为实现这一目标，</tspan><tspan x="2059" dy="15">可透过销售类书籍，拓宽知识和技能，为下一</tspan><tspan x="2059" dy="15">步实现进入管理层中期职业目标作准备。</tspan></text></g>
<g id="p6-b5" class="lf b6"><rect x="2053" y="3451" width="244" height="72"/><text class="t" x="2059" y="3469"><tspan x="2059">在试用期转正工作的最后，我恳求领导批准我</tspan><tspan x="2059" dy="15">的转正申请，而我也将把乐观，用心的心态，</tspan><tspan x="2059" dy="15">始终持续在工作生活中，为实现自己的奋斗目</tspan><tspan x="2059" dy="15">标，体现自己的价值，和公司共同成长。</tspan></text></g>
</svg>
